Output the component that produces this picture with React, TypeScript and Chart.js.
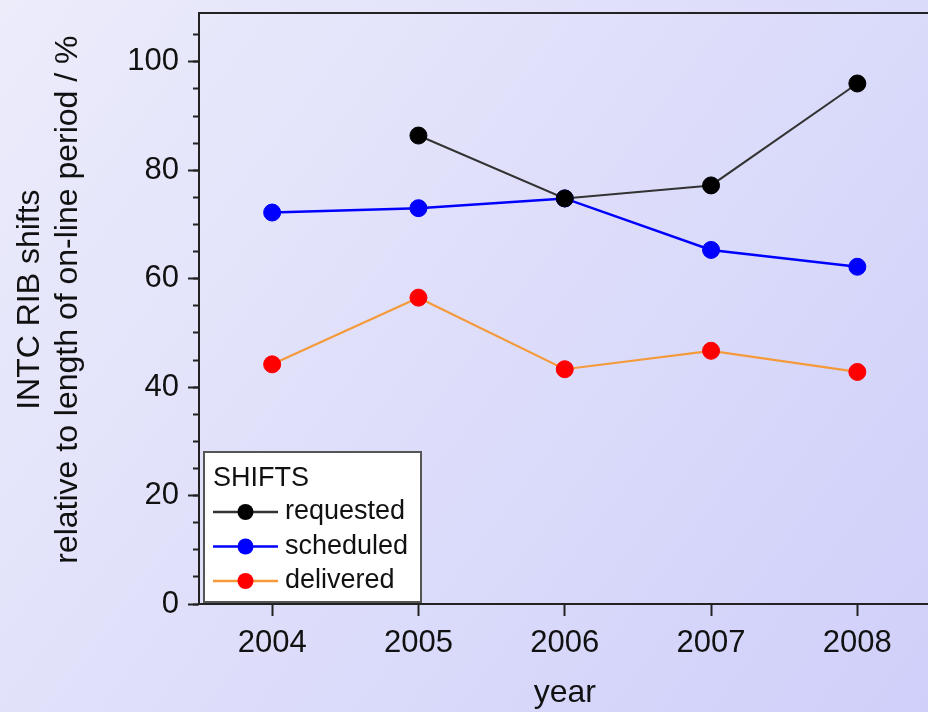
import React, { useEffect, useRef } from 'react';
import { Chart, registerables } from 'chart.js';

Chart.register(...registerables);

// ---- data ----
const years = ['2004', '2005', '2006', '2007', '2008'];
const requested = [null, 86.4, 74.8, 77.2, 96.0];
const scheduled = [72.2, 73.0, 74.8, 65.3, 62.2];
const delivered = [44.2, 56.5, 43.3, 46.7, 42.8];
const seriesNames = ['requested', 'scheduled', 'delivered'];
const legendTitle = 'SHIFTS';
const yTitle = ['  INTC RIB shifts', '  relative to length of on-line period / %'];
const xTitle = 'year';
const yMin = 0;
const yMax = 109;

const FONT = "'Liberation Sans', Arial, Helvetica, sans-serif";
const TEXT = '#111111';
const AXIS = '#222222';

const backgroundPlugin = {
  id: 'bgGradient',
  beforeDraw(chart: any) {
    const { ctx, width, height } = chart;
    const g = ctx.createLinearGradient(0, 0, width, height);
    g.addColorStop(0, '#ececfb');
    g.addColorStop(1, '#cfcffa');
    ctx.save();
    ctx.fillStyle = g;
    ctx.fillRect(0, 0, width, height);
    ctx.restore();
  },
};

const framePlugin = {
  id: 'topFrame',
  afterDraw(chart: any) {
    const { ctx, chartArea } = chart;
    ctx.save();
    ctx.strokeStyle = AXIS;
    ctx.lineWidth = 2;
    ctx.beginPath();
    ctx.moveTo(chartArea.left, chartArea.top);
    ctx.lineTo(chartArea.right + 10, chartArea.top);
    ctx.stroke();
    ctx.restore();
  },
};

const legendPlugin = {
  id: 'boxLegend',
  afterDraw(chart: any) {
    const { ctx, chartArea } = chart;
    const x0 = chartArea.left + 5;
    const y0 = chartArea.bottom - 152;
    const w = 217;
    const h = 150;
    ctx.save();
    ctx.fillStyle = '#ffffff';
    ctx.fillRect(x0, y0, w, h);
    ctx.strokeStyle = '#555555';
    ctx.lineWidth = 2;
    ctx.strokeRect(x0, y0, w, h);
    ctx.fillStyle = TEXT;
    ctx.font = `27px ${FONT}`;
    ctx.textBaseline = 'middle';
    ctx.textAlign = 'left';
    ctx.fillText(legendTitle, x0 + 9, y0 + 27);
    chart.data.datasets.forEach((ds: any, i: number) => {
      const cy = y0 + 60 + i * 34.5;
      const lx0 = x0 + 9;
      const lx1 = x0 + 74;
      ctx.strokeStyle = ds.borderColor;
      ctx.lineWidth = 2.5;
      ctx.beginPath();
      ctx.moveTo(lx0, cy);
      ctx.lineTo(lx1, cy);
      ctx.stroke();
      ctx.fillStyle = ds.pointBackgroundColor;
      ctx.beginPath();
      ctx.arc((lx0 + lx1) / 2, cy, 8, 0, Math.PI * 2);
      ctx.fill();
      ctx.fillStyle = TEXT;
      ctx.fillText(ds.label, x0 + 81, cy);
    });
    ctx.restore();
  },
};

export default function App() {
  const ref = useRef<HTMLCanvasElement | null>(null);

  useEffect(() => {
    document.documentElement.style.overflow = 'hidden';
    document.body.style.margin = '0';
    document.body.style.overflow = 'hidden';
    document.body.style.background = '#dcdcfa';
    const canvas = ref.current;
    if (!canvas) return;
    const tickFont = { family: FONT, size: 31 };
    const titleFont = { family: FONT, size: 32, lineHeight: 1.2 };
    const yFit = (w: number) => (s: any) => {
      s.width = w;
      s.paddingTop = 0;
      s.paddingBottom = 0;
    };
    const chart = new Chart(canvas, {
      type: 'line',
      data: {
        labels: years,
        datasets: [
          {
            label: seriesNames[0],
            data: requested,
            borderColor: '#333333',
            backgroundColor: '#000000',
            pointBackgroundColor: '#000000',
            pointBorderColor: '#000000',
            borderWidth: 2,
            pointRadius: 8.5,
            pointBorderWidth: 1,
          },
          {
            label: seriesNames[1],
            data: scheduled,
            borderColor: '#0000ff',
            backgroundColor: '#0000ff',
            pointBackgroundColor: '#0000ff',
            pointBorderColor: '#0000ff',
            borderWidth: 2.5,
            pointRadius: 8.5,
            pointBorderWidth: 1,
          },
          {
            label: seriesNames[2],
            data: delivered,
            borderColor: '#f59a3a',
            backgroundColor: '#ff0000',
            pointBackgroundColor: '#ff0000',
            pointBorderColor: '#ff0000',
            borderWidth: 2.2,
            pointRadius: 8.5,
            pointBorderWidth: 1,
          },
        ],
      },
      options: {
        animation: false,
        responsive: false,
        events: [],
        layout: { padding: { left: 0, right: 4, top: 13, bottom: 0 } },
        plugins: {
          legend: { display: false },
          tooltip: { enabled: false },
        },
        scales: {
          x: {
            type: 'category',
            offset: true,
            grid: {
              display: true,
              drawOnChartArea: false,
              offset: false,
              tickLength: 12,
              tickWidth: 2,
              tickColor: AXIS,
            },
            border: { display: true, color: AXIS, width: 2 },
            ticks: { font: tickFont, color: TEXT, padding: 9, maxRotation: 0, autoSkip: false },
            title: {
              display: true,
              text: xTitle,
              font: titleFont,
              color: TEXT,
              padding: { top: 0, bottom: 0 },
            },
            afterFit: (s: any) => {
              s.height = 108;
              s.paddingLeft = 0;
              s.paddingRight = 0;
            },
          },
          y: {
            type: 'linear',
            position: 'left',
            weight: 1,
            min: yMin,
            max: yMax,
            ticks: { stepSize: 20, includeBounds: false, font: tickFont, color: TEXT, padding: 9 },
            grid: {
              display: true,
              drawOnChartArea: false,
              tickLength: 11,
              tickWidth: 2,
              tickColor: AXIS,
            },
            border: { display: true, color: AXIS, width: 2 },
            title: {
              display: true,
              text: yTitle,
              font: titleFont,
              color: TEXT,
              padding: { top: 11, bottom: 0 },
            },
            afterFit: yFit(199),
          },
          yMinor: {
            type: 'linear',
            position: 'left',
            weight: 0,
            min: yMin,
            max: yMax,
            ticks: { display: false, stepSize: 5, includeBounds: false },
            grid: {
              display: true,
              drawOnChartArea: false,
              tickLength: 6,
              tickWidth: 2,
              tickColor: AXIS,
            },
            border: { display: false },
            afterFit: yFit(0),
          },
        },
      } as any,
      plugins: [backgroundPlugin, framePlugin, legendPlugin],
    });
    return () => chart.destroy();
  }, []);

  return (
    <div style={{ width: 928, height: 712, overflow: 'hidden' }}>
      <canvas ref={ref} width={940} height={712} style={{ display: 'block' }} />
    </div>
  );
}
